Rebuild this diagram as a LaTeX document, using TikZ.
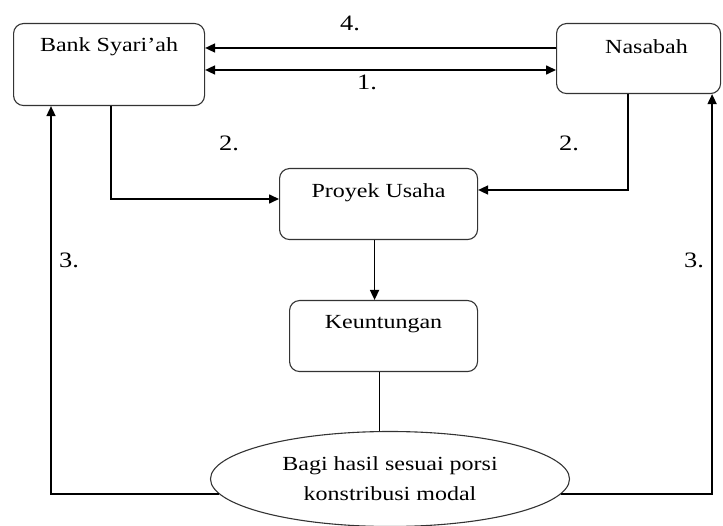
\documentclass[tikz,border=0pt]{standalone}
\usepackage{fontspec}
\setmainfont{Liberation Serif}[FakeStretch=1.2]
\usetikzlibrary{arrows.meta,shapes.geometric}
\begin{document}
\begin{tikzpicture}[x=1pt,y=1pt,
  font=\fontsize{20}{24}\selectfont,
  box/.style={draw=black!80, line width=1.1pt, rounded corners=10pt, anchor=north west, inner sep=0pt},
  txt/.style={inner sep=0pt, anchor=center},
  num/.style={txt, font=\fontsize{22}{26}\selectfont},
  conn/.style={line width=1.6pt},
  arr/.style={conn, -{Triangle[length=10pt,width=9pt]}},
  darr/.style={conn, {Triangle[length=10pt,width=9pt]}-{Triangle[length=10pt,width=9pt]}}]
\useasboundingbox (0,0) rectangle (723,-526);

% boxes
\node[box, minimum width=191pt, minimum height=82pt] (bank) at (13,-23) {};
\node[txt] (banktxt) at ([yshift=-24]bank.north) {Bank Syari’ah};
\node[box, minimum width=164pt, minimum height=70pt] (nasabah) at (556,-23) {};
\node[txt] (nastxt) at ([xshift=8,yshift=-24]nasabah.north) {Nasabah};
\node[box, minimum width=198pt, minimum height=71pt] (proyek) at (279,-168) {};
\node[txt] (proytxt) at ([yshift=-25]proyek.north) {Proyek Usaha};
\node[box, minimum width=188pt, minimum height=71pt] (keu) at (289,-300) {};
\node[txt] (keutxt) at ([yshift=-24]keu.north) {Keuntungan};
\node[draw=black!80, line width=1.1pt, ellipse, minimum width=359pt, minimum height=95pt, inner sep=0pt] (ell) at (390,-479) {};
\node[txt, align=center, font=\fontsize{20}{30}\selectfont] (elltxt) at (390,-479) {Bagi hasil sesuai porsi\\konstribusi modal};

% flows between bank and customer
\draw[arr] ([yshift=-25]nasabah.north west) -- ([yshift=-25]bank.north east);
\draw[darr] ([yshift=-47]bank.north east) -- ([yshift=-47]nasabah.north west);
\node[num] (l4) at (350,-23) {4.};
\node[num] (l1) at (367,-82) {1.};

% capital into the project
\draw[arr] ([xshift=98]bank.south west) |- ([yshift=-31]proyek.north west);
\draw[arr] ([xshift=72]nasabah.south west) |- ([yshift=-22]proyek.north east);
\node[num] (l2a) at (229,-143) {2.};
\node[num] (l2b) at (569,-143) {2.};

% project to profit to sharing
\draw[arr] ([xshift=-4]proyek.south) -- ([xshift=-9]keu.north);
\coordinate (keuout) at ([xshift=-4]keu.south);
\draw[conn] (keuout) -- (ell.north -| keuout);

% profit sharing back to both parties
\draw[arr] (ell.185) -| ([xshift=38]bank.south west);
\draw[arr] (ell.-5) -| ([xshift=-9]nasabah.south east);
\node[num] (l3a) at (69,-260) {3.};
\node[num] (l3b) at (694,-260) {3.};
\end{tikzpicture}
\end{document}
